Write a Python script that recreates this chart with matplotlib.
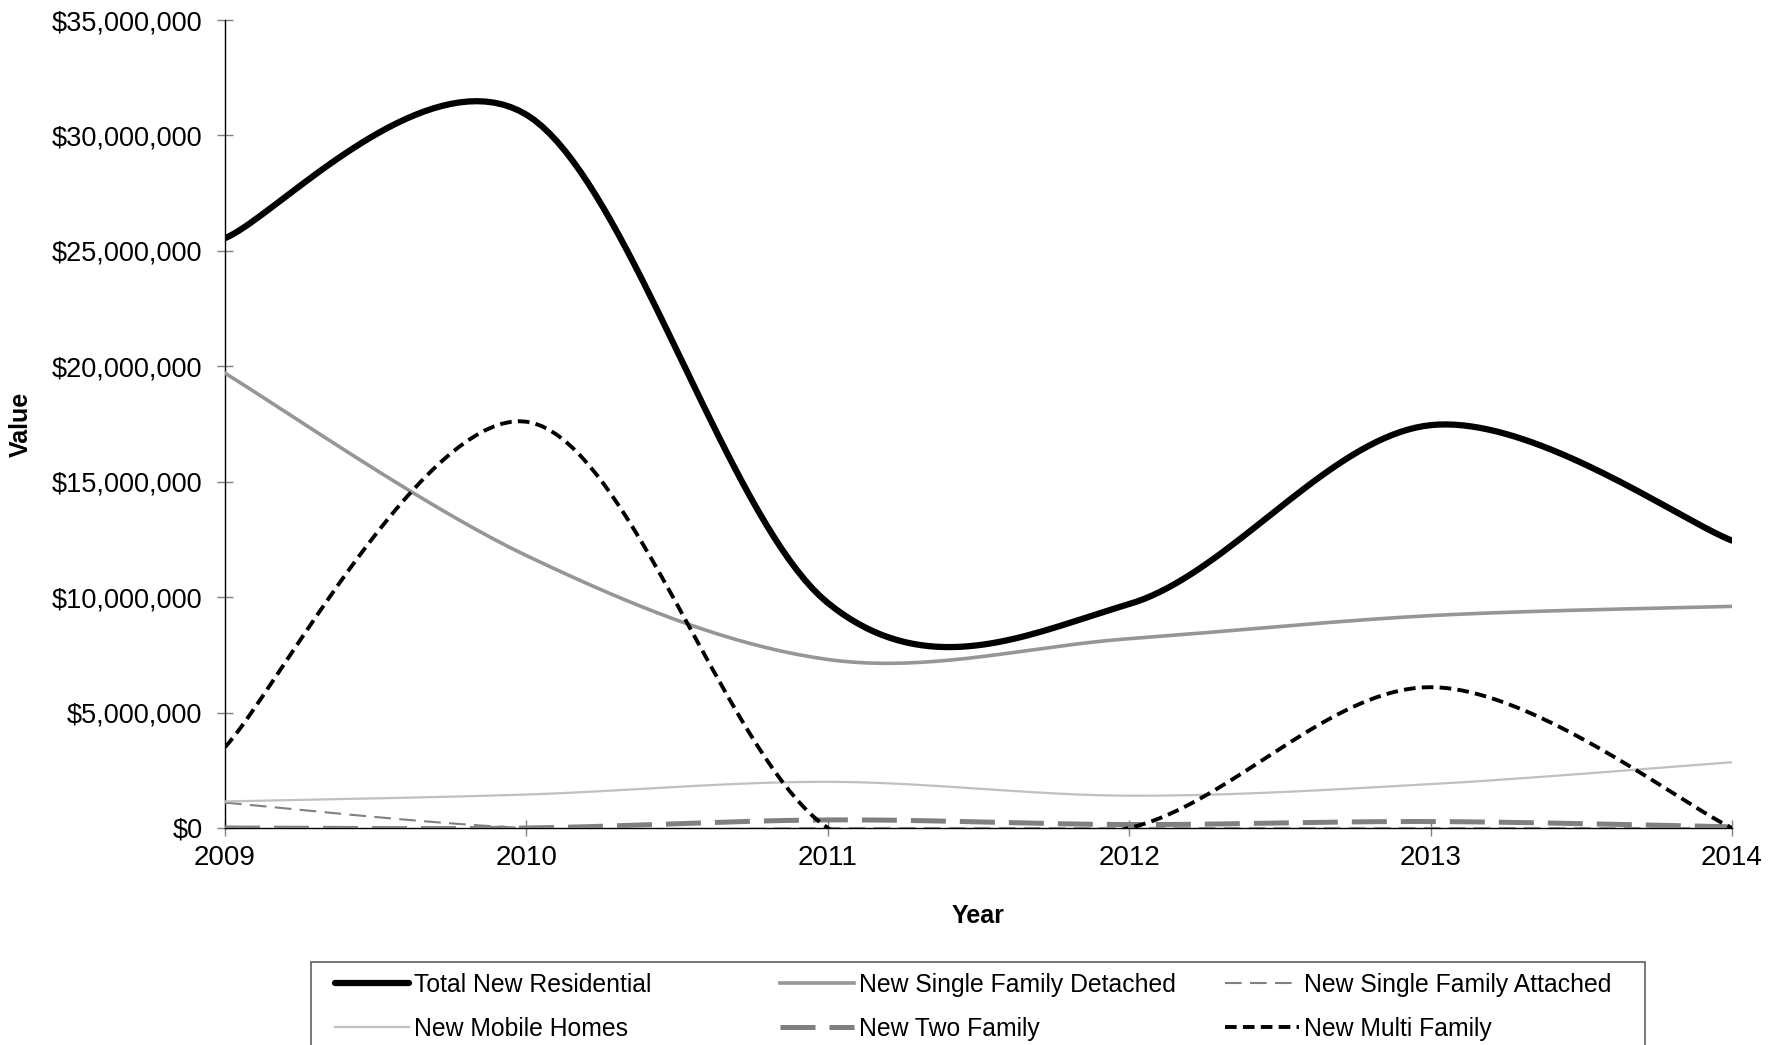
import matplotlib
matplotlib.use('Agg')
import matplotlib.pyplot as plt
import numpy as np
from matplotlib.patches import Rectangle

plt.rcParams['font.family'] = ['Liberation Sans', 'DejaVu Sans']

years = [2009, 2010, 2011, 2012, 2013, 2014]
total_new_residential = [25.55e6, 30.9e6, 9.75e6, 9.7e6, 17.45e6, 12.45e6]
single_family_detached = [19.7e6, 11.8e6, 7.3e6, 8.2e6, 9.2e6, 9.6e6]
single_family_attached = [1.1e6, 0, 0, 0, 0, 0]
mobile_homes = [1.15e6, 1.45e6, 2.0e6, 1.4e6, 1.9e6, 2.85e6]
two_family = [0, 0, 0.35e6, 0.15e6, 0.28e6, 0.05e6]
multi_family = [3.5e6, 17.6e6, 0, 0, 6.1e6, 0]

y_ticks = np.arange(0, 35e6 + 1, 5e6)


def smooth(xs, ys, steps=40):
    """Excel style smoothed line: cubic bezier through the points."""
    p = np.column_stack([xs, ys]).astype(float)
    n = len(p)
    out = [p[:1]]
    t = np.linspace(0, 1, steps)[1:, None]
    for i in range(n - 1):
        prev = p[i - 1] if i > 0 else p[i]
        nxt = p[i + 2] if i + 2 < n else p[i + 1]
        c1 = p[i] + (p[i + 1] - prev) / 6
        c2 = p[i + 1] - (nxt - p[i]) / 6
        seg = ((1 - t) ** 3 * p[i] + 3 * (1 - t) ** 2 * t * c1
               + 3 * (1 - t) * t ** 2 * c2 + t ** 3 * p[i + 1])
        out.append(seg)
    out = np.vstack(out)
    return out[:, 0], out[:, 1]


fig = plt.figure(figsize=(17.88, 10.45), dpi=100)
ax = fig.add_axes([225 / 1788, 1 - 828 / 1045, (1732 - 225) / 1788, (828 - 20) / 1045])

series = [
    (total_new_residential, 'Total New Residential', dict(color='black', lw=4.5, solid_capstyle='round')),
    (single_family_detached, 'New Single Family Detached', dict(color='#969696', lw=2.6)),
    (single_family_attached, 'New Single Family Attached', dict(color='#808080', lw=1.5, dashes=(8, 4))),
    (mobile_homes, 'New Mobile Homes', dict(color='#c0c0c0', lw=1.6)),
    (two_family, 'New Two Family', dict(color='#808080', lw=3.6, dashes=(7, 2.8))),
    (multi_family, 'New Multi Family', dict(color='black', lw=2.8, dashes=(3, 1.6))),
]

handles = []
for vals, label, style in series:
    sx, sy = smooth(years, vals)
    line, = ax.plot(sx, sy, label=label, zorder=3, **style)
    handles.append(line)

ax.set_xlim(2009, 2014)
ax.set_ylim(0, 35e6)
ax.set_xticks(years)
ax.set_yticks(y_ticks)
ax.set_yticklabels(['${:,.0f}'.format(v) for v in y_ticks])
ax.spines['top'].set_visible(False)
ax.spines['right'].set_visible(False)
ax.spines['left'].set_linewidth(1)
ax.spines['bottom'].set_linewidth(1)
ax.tick_params(axis='both', direction='inout', length=11.5, width=1, color='#808080')
ax.tick_params(axis='y', labelsize=19.5, pad=10.5)
ax.tick_params(axis='x', labelsize=20, pad=6.5)

ax.set_ylabel('Value', fontsize=18, fontweight='bold', labelpad=14)
ax.set_xlabel('Year', fontsize=18, fontweight='bold', labelpad=24)

# Legend box, cut off by the bottom edge as in the original
fig.patches.append(Rectangle((311 / 1788, -0.05), (1645 - 311) / 1788, 1 - 962 / 1045 + 0.05,
                             transform=fig.transFigure, fill=False, edgecolor='#606060', lw=1.2))

col_x = [335, 780, 1225]
for k in range(3):
    leg = fig.legend(handles=[handles[k], handles[k + 3]], loc='upper left',
                     bbox_to_anchor=(col_x[k] / 1788, 1 - 973 / 1045),
                     bbox_transform=fig.transFigure, frameon=False, fontsize=17.8,
                     borderpad=0, borderaxespad=0, handlelength=3.0, handletextpad=0.2,
                     labelspacing=0.8)

fig.savefig('out.png', dpi=100)
